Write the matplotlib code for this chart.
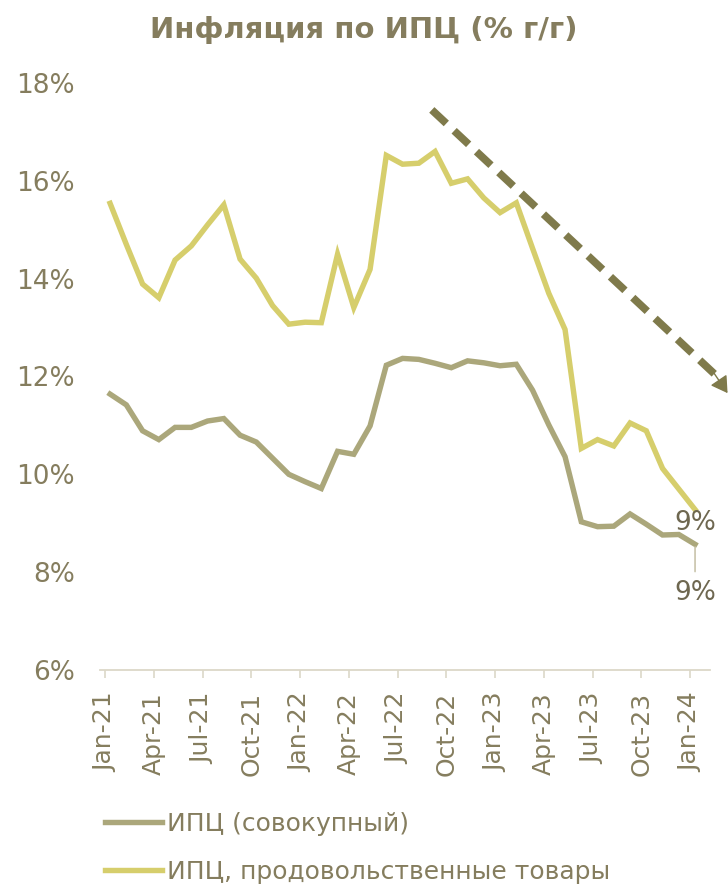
import matplotlib.pyplot as plt

# monthly data, Jan-21 .. Jan-24 (% y/y)
months = list(range(37))
cpi_total = [11.64, 11.42, 10.89, 10.71, 10.96, 10.96, 11.09, 11.14, 10.80, 10.66, 10.33, 10.00,
             9.85, 9.71, 10.47, 10.41, 10.99, 12.23, 12.37, 12.35, 12.27, 12.18, 12.32, 12.28,
             12.22, 12.25, 11.72, 11.01, 10.36, 9.03, 8.93, 8.94, 9.19, 8.98, 8.76, 8.77, 8.57]
cpi_food = [15.54, 14.70, 13.89, 13.61, 14.38, 14.67, 15.10, 15.51, 14.40, 14.01, 13.45, 13.07,
            13.11, 13.10, 14.50, 13.41, 14.19, 16.52, 16.34, 16.36, 16.60, 15.95, 16.04, 15.65,
            15.35, 15.55, 14.62, 13.70, 12.96, 10.53, 10.71, 10.58, 11.05, 10.89, 10.12, 9.70, 9.28]
tick_pos = list(range(0, 37, 3))
tick_labels = ['Jan-21', 'Apr-21', 'Jul-21', 'Oct-21', 'Jan-22', 'Apr-22', 'Jul-22',
               'Oct-22', 'Jan-23', 'Apr-23', 'Jul-23', 'Oct-23', 'Jan-24']
yticks = [6, 8, 10, 12, 14, 16, 18]

c_total = '#aba77b'
c_food = '#d6ce6c'
c_text = '#857d5e'
c_dark = '#6e6750'
c_arrow = '#7f7a4b'

plt.rcParams['font.family'] = ['DejaVu Sans']

fig = plt.figure(figsize=(7.28, 8.92), dpi=100)
ax = fig.add_axes([100 / 728, 1 - 670 / 892, 610 / 728, 587 / 892])

ax.plot(months, cpi_total, color=c_total, lw=3.9, solid_joinstyle='miter',
        label='ИПЦ (совокупный)')
ax.plot(months, cpi_food, color=c_food, lw=3.9, solid_joinstyle='miter',
        label='ИПЦ, продовольственные товары')

ax.set_xlim(-0.62, 36.92)
ax.set_ylim(6, 18)

ax.set_yticks(yticks)
ax.set_yticklabels([f'{v}%' for v in yticks])
ax.set_xticks([p - 0.3 for p in tick_pos])
ax.set_xticklabels(tick_labels, rotation=90)

for s in ['top', 'right', 'left']:
    ax.spines[s].set_visible(False)
ax.spines['bottom'].set_color('#dcd8c8')
ax.spines['bottom'].set_linewidth(1.3)
ax.tick_params(axis='y', length=0, pad=18, labelsize=19, labelcolor=c_text)
ax.tick_params(axis='x', length=6, width=1.2, color='#dcd8c8', pad=10,
               labelsize=18, labelcolor=c_text)

# end labels
ax.annotate('9%', xy=(months[-1], cpi_food[-1]), xytext=(0, -10),
            textcoords='offset points', ha='center', va='center',
            fontsize=19, color=c_dark, annotation_clip=False)
ax.annotate('9%', xy=(months[-1], cpi_total[-1]), xytext=(0, -35),
            textcoords='offset points', ha='center', va='center',
            fontsize=19, color=c_dark, annotation_clip=False,
            arrowprops=dict(arrowstyle='-', color='#c9c4ab', lw=1.2,
                            shrinkA=4, shrinkB=2))

# trend arrow
ax.plot([19.8, 37.2], [17.45, 12.05], color=c_arrow, lw=5.5,
        ls=(0, (2.6, 1.4)), clip_on=False)
ax.annotate('', xy=(38.0, 11.66), xytext=(37.0, 12.15),
            arrowprops=dict(arrowstyle='-|>,head_length=1.0,head_width=0.6',
                            color=c_arrow, lw=1, shrinkA=0, shrinkB=0),
            annotation_clip=False)

fig.text(0.5, 1 - 30 / 892, 'Инфляция по ИПЦ (% г/г)', ha='center', va='center',
         fontsize=21, fontweight='bold', color=c_text)

fig.legend(loc='upper left', bbox_to_anchor=(105 / 728, 1 - 812 / 892),
           frameon=False, fontsize=18, handlelength=2.3, handletextpad=0.2,
           labelspacing=0.95, borderpad=0, borderaxespad=0, labelcolor=c_text)

fig.savefig('out.png', dpi=100)
